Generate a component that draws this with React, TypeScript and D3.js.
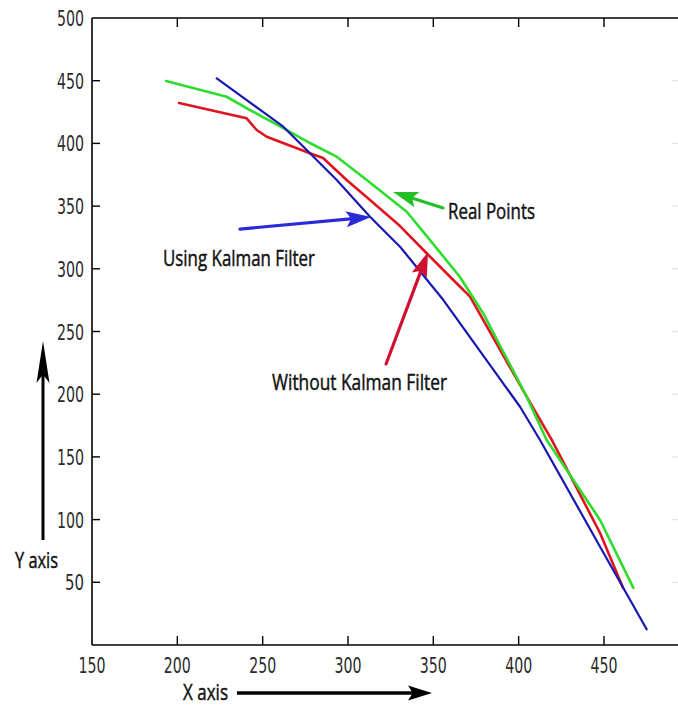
import React from 'react';
import * as d3 from 'd3';

const xTicks = [150, 200, 250, 300, 350, 400, 450];
const yTicks = [50, 100, 150, 200, 250, 300, 350, 400, 450, 500];

// Real Points (green)
const realX = [193.4, 228.9, 242.6, 261.9, 277.7, 293.6, 311.0, 334.4, 348.1, 365.6, 379.1, 404.7, 416.4, 447.7, 467.2];
const realY = [449.8, 437.2, 426.6, 412.3, 400.3, 389.2, 370.8, 345.5, 322.9, 293.5, 264.8, 198.0, 163.5, 99.7, 45.5];

// Without Kalman Filter (red)
const rawX = [201.0, 240.6, 246.5, 252.4, 277.7, 285.4, 299.2, 312.9, 330.5, 346.1, 361.7, 371.5, 404.7, 419.4, 447.7, 461.2];
const rawY = [432.2, 420.0, 410.7, 405.3, 392.1, 388.4, 370.8, 354.9, 334.1, 312.4, 291.1, 277.8, 198.0, 163.5, 89.3, 45.5];

// Using Kalman Filter (blue)
const kalX = [223.1, 262.1, 277.7, 293.4, 312.9, 330.5, 355.9, 400.8, 412.5, 447.7, 475.0];
const kalY = [451.9, 413.3, 392.1, 370.8, 341.5, 317.6, 275.1, 190.0, 163.5, 78.4, 12.5];

// annotations (data coordinates)
const labelNames = ['Real Points', 'Using Kalman Filter', 'Without Kalman Filter'];
const labelX = [358.6, 191.6, 255.5];
const labelY = [339.7, 302.2, 203.3];
const arrowTailX = [355.7, 236.7, 322.3];
const arrowTailY = [348.5, 331.7, 224.1];
const arrowTipX = [326.4, 313.5, 346.9];
const arrowTipY = [361.2, 341.3, 313.4];

const W = 678;
const H = 707;
const LEFT = 92;
const TOP = 18;
const BOTTOM = 645;

const NUM_FONT = '"Liberation Sans Narrow", "DejaVu Sans Condensed", "Liberation Sans", sans-serif';
const TXT_FONT = '"Liberation Sans Narrow", "Open Sans", "Noto Sans", sans-serif';

function arrowHead(tx: number, ty: number, hx: number, hy: number, len: number, hw: number) {
  const dx = hx - tx;
  const dy = hy - ty;
  const d = Math.sqrt(dx * dx + dy * dy);
  const ux = dx / d;
  const uy = dy / d;
  const bx = hx - ux * len;
  const by = hy - uy * len;
  const px = -uy;
  const py = ux;
  return `${hx},${hy} ${bx + px * hw},${by + py * hw} ${hx - ux * len * 0.8},${hy - uy * len * 0.8} ${bx - px * hw},${by - py * hw}`;
}

export default function App() {
  const x = d3.scaleLinear().domain([150, 500]).range([LEFT, LEFT + 350 * (85.33 / 50)]);
  const y = d3.scaleLinear().domain([0, 500]).range([BOTTOM, TOP]);

  const line = d3
    .line<[number, number]>()
    .x((d) => x(d[0]))
    .y((d) => y(d[1]));

  const series = [
    { xs: rawX, ys: rawY, color: '#e0141e', w: 2.6 },
    { xs: realX, ys: realY, color: '#2ddc2d', w: 2.6 },
    { xs: kalX, ys: kalY, color: '#1818b0', w: 2.2 },
  ];

  const arrowColors = ['#25c025', '#2a2ad8', '#d01030'];
  const labelLens = [87, 152, 175];

  return (
    <svg width={W} height={H} style={{ position: 'absolute', left: 0, top: 0, background: '#fff' }}>
      <rect x={0} y={0} width={W} height={H} fill="#fff" />
      {/* axes box */}
      <line x1={LEFT} x2={LEFT} y1={TOP} y2={BOTTOM} stroke="#000" strokeWidth={1.6} />
      <line x1={LEFT} x2={W} y1={BOTTOM} y2={BOTTOM} stroke="#000" strokeWidth={1.6} />
      <line x1={LEFT} x2={W} y1={TOP} y2={TOP} stroke="#000" strokeWidth={1.6} />

      {/* x ticks */}
      {xTicks.map((t) => (
        <g key={'xt' + t}>
          {t > 150 && (
            <>
              <line x1={x(t)} x2={x(t)} y1={BOTTOM} y2={BOTTOM - 9} stroke="#000" strokeWidth={1.4} />
              <line x1={x(t)} x2={x(t)} y1={TOP} y2={TOP + 9} stroke="#000" strokeWidth={1.4} />
            </>
          )}
          <text
            x={x(t)}
            y={673}
            textAnchor="middle"
            fontFamily={NUM_FONT}
            fontSize={22}
            fill="#2a2a2a"
            textLength={27}
            lengthAdjust="spacingAndGlyphs"
          >
            {t}
          </text>
        </g>
      ))}

      {/* y ticks */}
      {yTicks.map((t) => (
        <g key={'yt' + t}>
          {t < 500 && (
            <>
              <line x1={LEFT} x2={LEFT + 8} y1={y(t)} y2={y(t)} stroke="#000" strokeWidth={1.4} />
              <line x1={W - 6} x2={W} y1={y(t)} y2={y(t)} stroke="#e4e4e4" strokeWidth={1.2} />
            </>
          )}
          <text
            x={84}
            y={y(t) + 8}
            textAnchor="end"
            fontFamily={NUM_FONT}
            fontSize={22}
            fill="#2a2a2a"
            textLength={t >= 100 ? 27 : 19}
            lengthAdjust="spacingAndGlyphs"
          >
            {t}
          </text>
        </g>
      ))}

      {/* data lines */}
      {series.map((s, i) => (
        <path
          key={'s' + i}
          d={line(s.xs.map((v, j) => [v, s.ys[j]] as [number, number])) || ''}
          fill="none"
          stroke={s.color}
          strokeWidth={s.w}
          strokeLinejoin="round"
          strokeLinecap="round"
        />
      ))}

      {/* annotation arrows and labels */}
      {labelNames.map((n, i) => {
        const tx = x(arrowTailX[i]);
        const ty = y(arrowTailY[i]);
        const hx = x(arrowTipX[i]);
        const hy = y(arrowTipY[i]);
        const dx = hx - tx;
        const dy = hy - ty;
        const d = Math.sqrt(dx * dx + dy * dy);
        const ex = hx - (dx / d) * 18;
        const ey = hy - (dy / d) * 18;
        return (
          <g key={'a' + i}>
            <line x1={tx} y1={ty} x2={ex} y2={ey} stroke={arrowColors[i]} strokeWidth={3.2} strokeLinecap="round" />
            <polygon points={arrowHead(tx, ty, hx, hy, 25, 8)} fill={arrowColors[i]} />
            <text
              x={x(labelX[i])}
              y={y(labelY[i])}
              fontFamily={TXT_FONT}
              fontSize={21}
              fill="#111"
              stroke="#111"
              strokeWidth={0.45}
              textLength={labelLens[i]}
              lengthAdjust="spacingAndGlyphs"
            >
              {n}
            </text>
          </g>
        );
      })}

      {/* Y axis label + arrow */}
      <line x1={43} x2={43} y1={540} y2={370} stroke="#000" strokeWidth={3} />
      <polygon points={arrowHead(43, 540, 43, 341, 42, 6.5)} fill="#000" />
      <text x={15} y={568} fontFamily={TXT_FONT} fontSize={21} fill="#111" stroke="#111" strokeWidth={0.45} textLength={43} lengthAdjust="spacingAndGlyphs">
        Y axis
      </text>

      {/* X axis label + arrow */}
      <text x={183} y={700} fontFamily={TXT_FONT} fontSize={21} fill="#111" stroke="#111" strokeWidth={0.45} textLength={45} lengthAdjust="spacingAndGlyphs">
        X axis
      </text>
      <line x1={237} x2={415} y1={693} y2={693} stroke="#000" strokeWidth={3.4} />
      <polygon points={arrowHead(237, 693, 432, 693, 24, 7.5)} fill="#000" />
    </svg>
  );
}
